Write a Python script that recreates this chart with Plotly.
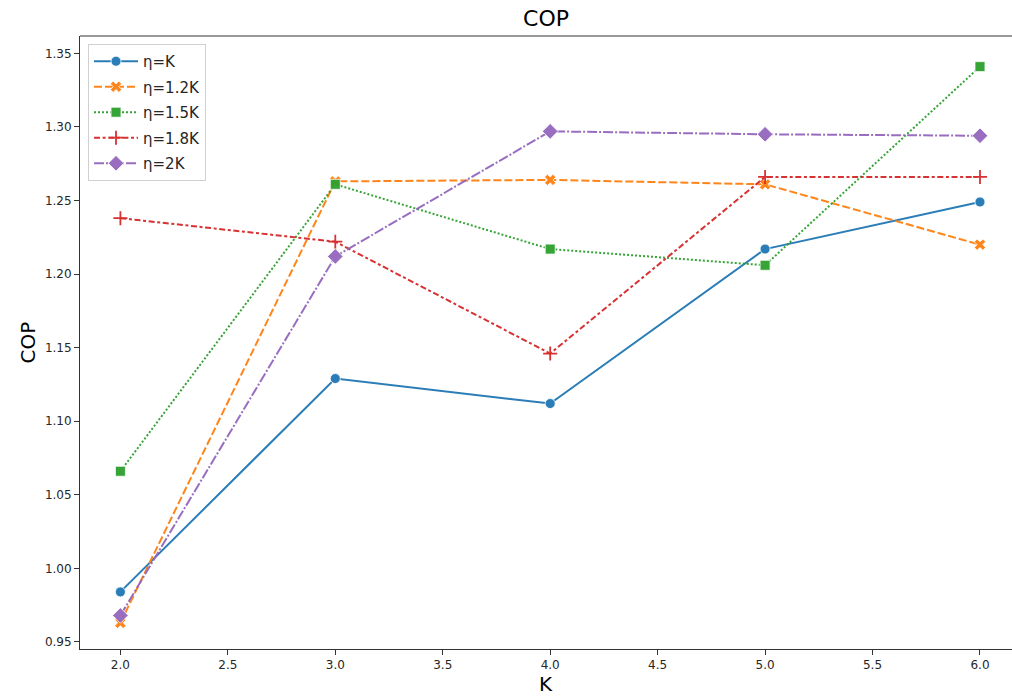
import plotly.graph_objects as go

K = [2, 3, 4, 5, 6]
eta_K = [0.984, 1.129, 1.112, 1.217, 1.249]
eta_1_2K = [0.963, 1.263, 1.264, 1.261, 1.220]
eta_1_5K = [1.066, 1.261, 1.217, 1.206, 1.341]
eta_1_8K = [1.238, 1.222, 1.146, 1.266, 1.266]
eta_2K = [0.968, 1.212, 1.297, 1.295, 1.294]

names = ["η=K", "η=1.2K", "η=1.5K", "η=1.8K", "η=2K"]
series = [eta_K, eta_1_2K, eta_1_5K, eta_1_8K, eta_2K]
colors = ["#1f77b4", "#ff7f0e", "#2ca02c", "#d62728", "#9467bd"]
dashes = ["solid", "8px,3px", "2px,2px", "6px,2.6px,3px,2.6px", "10px,2px,2px,2px"]
symbols = ["circle", "x", "square", "cross-thin", "diamond"]
sizes = [10, 10, 10, 10, 12]

fig = go.Figure()
for i, (name, ys, c, d, s, sz) in enumerate(zip(names, series, colors, dashes, symbols, sizes)):
    if s == "cross-thin":
        marker = dict(symbol=s, size=sz, color=c, line=dict(color=c, width=1.8))
    else:
        marker = dict(symbol=s, size=sz, color=c, line=dict(color="white", width=0.8))
    fig.add_trace(go.Scatter(
        x=K, y=ys, name=name, mode="lines+markers", legendgroup=f"g{i}",
        line=dict(color=c, width=2, dash=d),
        marker=marker, opacity=0.95,
    ))

fig.update_layout(
    width=1012, height=696,
    margin=dict(l=80, r=0, t=36, b=47),
    paper_bgcolor="white", plot_bgcolor="white",
    font=dict(family="DejaVu Sans", color="#262626"),
    title=dict(text="COP", x=0.5, xref="paper", xanchor="center",
               y=1 - 18 / 696, yref="container", yanchor="middle",
               font=dict(size=22, color="black")),
    showlegend=True,
    legend=dict(x=0.0086, y=0.987, xanchor="left", yanchor="top",
                bgcolor="rgba(255,255,255,0.8)", bordercolor="#d0d0d0", borderwidth=1,
                font=dict(size=15, color="#262626"), tracegroupgap=3, itemwidth=44),
    annotations=[
        dict(text="K", x=0.5, xref="paper", y=(649.3 - 684) / 613.3, yref="paper",
             showarrow=False, font=dict(size=20, color="black"),
             xanchor="center", yanchor="middle"),
        dict(text="COP", x=(27 - 80) / 932, xref="paper", y=0.5, yref="paper",
             showarrow=False, font=dict(size=20, color="black"), textangle=-90,
             xanchor="center", yanchor="middle"),
    ],
    shapes=[dict(type="line", xref="paper", yref="paper", x0=0, x1=1.05, y0=1, y1=1,
                 line=dict(color="#333333", width=1))],
)

fig.update_xaxes(
    range=[1.812, 6.149], tickvals=[2, 2.5, 3, 3.5, 4, 4.5, 5, 5.5, 6],
    ticktext=["2.0", "2.5", "3.0", "3.5", "4.0", "4.5", "5.0", "5.5", "6.0"],
    showgrid=False, zeroline=False, showline=True, mirror=False, automargin=False,
    linecolor="#333333", linewidth=1, ticks="outside", ticklen=5, tickwidth=1,
    tickcolor="#333333", tickfont=dict(size=12),
)
fig.update_yaxes(
    range=[0.9452, 1.3618], tickvals=[0.95, 1.0, 1.05, 1.1, 1.15, 1.2, 1.25, 1.3, 1.35],
    ticktext=["0.95", "1.00", "1.05", "1.10", "1.15", "1.20", "1.25", "1.30", "1.35"],
    showgrid=False, zeroline=False, showline=True, mirror=False, automargin=False,
    linecolor="#333333", linewidth=1, ticks="outside", ticklen=5, tickwidth=1,
    tickcolor="#333333", tickfont=dict(size=12),
)
fig.write_html("out.html", config={"displayModeBar": False},
               post_script="document.body.style.margin='0';")
